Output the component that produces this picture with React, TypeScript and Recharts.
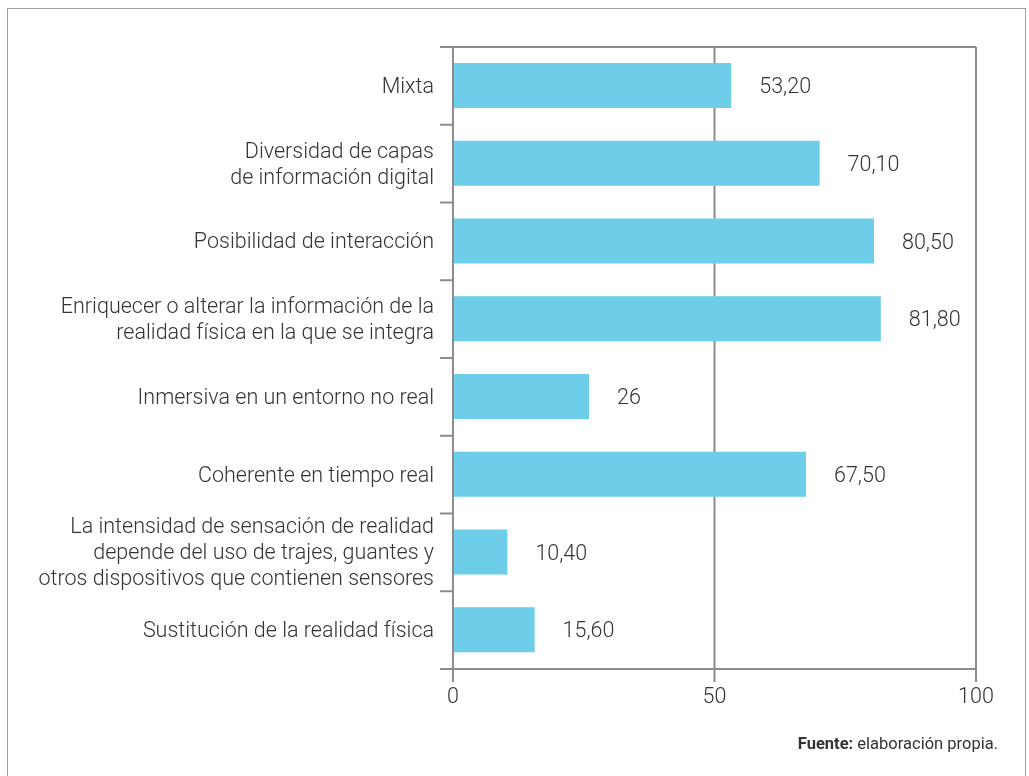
import React from 'react';
import {
  BarChart,
  Bar,
  XAxis,
  YAxis,
  CartesianGrid,
  LabelList,
} from 'recharts';

const categories = [
  ['Mixta'],
  ['Diversidad de capas', 'de información digital'],
  ['Posibilidad de interacción'],
  ['Enriquecer o alterar la información de la', 'realidad física en la que se integra'],
  ['Inmersiva en un entorno no real'],
  ['Coherente en tiempo real'],
  [
    'La intensidad de sensación de realidad',
    'depende del uso de trajes, guantes y',
    'otros dispositivos que contienen sensores',
  ],
  ['Sustitución de la realidad física'],
];
const values = [53.2, 70.1, 80.5, 81.8, 26, 67.5, 10.4, 15.6];
const valueLabels = ['53,20', '70,10', '80,50', '81,80', '26', '67,50', '10,40', '15,60'];
const xTicks = [0, 50, 100];

const data = categories.map((lines, i) => ({
  name: lines.join(' '),
  lines,
  value: values[i],
  label: valueLabels[i],
}));

const W = 1029;
const H = 776;
const margin = { top: 47, right: 53, bottom: 77, left: 0 };
const axisW = 453;
const xAxisH = 30;
const plotW = W - axisW - margin.left - margin.right;
const plotH = H - margin.top - margin.bottom - xAxisH;
const band = plotH / categories.length;

const GRAY = '#8c8c8c';
const TEXT = '#333333';
const FONT = 'Roboto, "Liberation Sans", sans-serif';
const FS = 21.5;

function CategoryTick(props: any) {
  const { x, y, payload, index } = props;
  const lines: string[] = data[index]?.lines ?? [payload.value];
  const lh = 26;
  const start = -((lines.length - 1) * lh) / 2;
  return (
    <g>
      <line x1={x + 6} x2={x + 19} y1={y - band / 2} y2={y - band / 2} stroke={GRAY} strokeWidth={2} />
      {index === categories.length - 1 && (
        <line x1={x + 6} x2={x + 19} y1={y + band / 2} y2={y + band / 2} stroke={GRAY} strokeWidth={2} />
      )}
      <text
        x={x}
        y={y}
        textAnchor="end"
        fill={TEXT}
        fontSize={FS}
        fontWeight={300}
        fontFamily={FONT}
      >
        {lines.map((l, i) => (
          <tspan key={i} x={x} dy={i === 0 ? start + 7 : lh}>
            {l}
          </tspan>
        ))}
      </text>
    </g>
  );
}

export default function App() {
  return (
    <div>
      <div
        style={{
          position: 'fixed',
          left: 7,
          top: 8,
          width: 1019,
          height: 800,
          boxSizing: 'border-box',
          border: '1.5px solid #a0a0a0',
          borderBottom: 'none',
        }}
      />
      <div style={{ position: 'fixed', left: 0, top: 0 }}>
        <BarChart
          width={W}
          height={H}
          data={data}
          layout="vertical"
          margin={margin}
          barSize={45}
        >
          <CartesianGrid horizontal={false} stroke={GRAY} strokeWidth={2} />
          <XAxis
            type="number"
            domain={[0, 100]}
            ticks={xTicks}
            height={xAxisH}
            tickSize={13}
            tickMargin={6}
            axisLine={{ stroke: GRAY, strokeWidth: 2 }}
            tickLine={{ stroke: GRAY, strokeWidth: 2 }}
            tick={{ fill: TEXT, fontSize: FS, fontWeight: 300, fontFamily: FONT }}
          />
          <YAxis
            type="category"
            dataKey="name"
            width={axisW}
            tickSize={13}
            tickMargin={6}
            tickLine={false}
            interval={0}
            axisLine={{ stroke: GRAY, strokeWidth: 2 }}
            tick={<CategoryTick />}
          />
          <Bar dataKey="value" fill="#6ecde9" isAnimationActive={false}>
            <LabelList
              dataKey="label"
              position="right"
              offset={28}
              fill={TEXT}
              fontSize={FS}
              fontWeight={300}
              fontFamily={FONT}
            />
          </Bar>
        </BarChart>
      </div>
      {/* top edge of the plot frame */}
      <div
        style={{
          position: 'fixed',
          left: axisW,
          top: margin.top - 1,
          width: plotW,
          height: 2,
          background: GRAY,
        }}
      />
      <div
        style={{
          position: 'fixed',
          right: 31,
          top: 734,
          fontFamily: FONT,
          fontSize: 16.5,
          color: TEXT,
        }}
      >
        <b style={{ fontWeight: 700 }}>Fuente:</b> elaboración propia.
      </div>
    </div>
  );
}
